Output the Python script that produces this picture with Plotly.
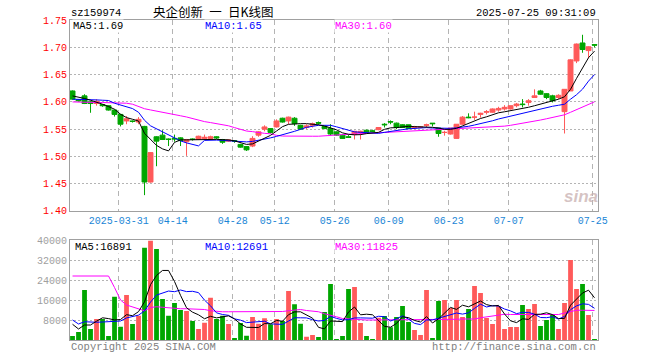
import plotly.graph_objects as go

# ---------------- data ----------------
dates = [
    "2025-03-19", "2025-03-20", "2025-03-21", "2025-03-24", "2025-03-25", "2025-03-26", "2025-03-27", "2025-03-28",
    "2025-03-31", "2025-04-01", "2025-04-02", "2025-04-03", "2025-04-07", "2025-04-08", "2025-04-09", "2025-04-10",
    "2025-04-11", "2025-04-14", "2025-04-15", "2025-04-16", "2025-04-17", "2025-04-18", "2025-04-21", "2025-04-22",
    "2025-04-23", "2025-04-24", "2025-04-25", "2025-04-28", "2025-04-29", "2025-04-30", "2025-05-06", "2025-05-07",
    "2025-05-08", "2025-05-09", "2025-05-12", "2025-05-13", "2025-05-14", "2025-05-15", "2025-05-16", "2025-05-19",
    "2025-05-20", "2025-05-21", "2025-05-22", "2025-05-23", "2025-05-26", "2025-05-27", "2025-05-28", "2025-05-29",
    "2025-05-30", "2025-06-03", "2025-06-04", "2025-06-05", "2025-06-06", "2025-06-09", "2025-06-10", "2025-06-11",
    "2025-06-12", "2025-06-13", "2025-06-16", "2025-06-17", "2025-06-18", "2025-06-19", "2025-06-20", "2025-06-23",
    "2025-06-24", "2025-06-25", "2025-06-26", "2025-06-27", "2025-06-30", "2025-07-01", "2025-07-02", "2025-07-03",
    "2025-07-04", "2025-07-07", "2025-07-08", "2025-07-09", "2025-07-10", "2025-07-11", "2025-07-14", "2025-07-15",
    "2025-07-16", "2025-07-17", "2025-07-18", "2025-07-21", "2025-07-22", "2025-07-23", "2025-07-24", "2025-07-25",
]

opens = [
    1.620, 1.604, 1.611, 1.600, 1.597, 1.595, 1.593, 1.585, 1.577, 1.565, 1.565, 1.563, 1.555, 1.453, 1.536, 1.539,
    1.532, 1.533, 1.534, 1.527, 1.532, 1.531, 1.533, 1.533, 1.536, 1.531, 1.528, 1.529, 1.522, 1.518, 1.519, 1.539,
    1.550, 1.551, 1.554, 1.570, 1.565, 1.570, 1.557, 1.553, 1.557, 1.562, 1.555, 1.551, 1.545, 1.539, 1.536, 1.540,
    1.544, 1.548, 1.547, 1.549, 1.559, 1.564, 1.561, 1.558, 1.558, 1.552, 1.553, 1.557, 1.561, 1.552, 1.544, 1.541,
    1.533, 1.559, 1.572, 1.572, 1.577, 1.581, 1.581, 1.585, 1.587, 1.587, 1.593, 1.596, 1.599, 1.608, 1.620, 1.615,
    1.611, 1.608, 1.582, 1.620, 1.675, 1.708, 1.694, 1.705,
]
highs = [
    1.621, 1.605, 1.614, 1.601, 1.605, 1.596, 1.594, 1.586, 1.578, 1.574, 1.566, 1.572, 1.556, 1.508, 1.537, 1.548,
    1.533, 1.540, 1.535, 1.532, 1.533, 1.538, 1.540, 1.538, 1.537, 1.532, 1.531, 1.530, 1.523, 1.519, 1.537, 1.546,
    1.557, 1.552, 1.568, 1.571, 1.573, 1.572, 1.558, 1.559, 1.562, 1.564, 1.556, 1.559, 1.546, 1.540, 1.539, 1.547,
    1.547, 1.549, 1.549, 1.553, 1.561, 1.566, 1.562, 1.559, 1.558, 1.556, 1.555, 1.560, 1.561, 1.552, 1.547, 1.552,
    1.559, 1.574, 1.579, 1.582, 1.580, 1.585, 1.588, 1.591, 1.594, 1.593, 1.598, 1.605, 1.605, 1.623, 1.622, 1.616,
    1.613, 1.614, 1.623, 1.678, 1.707, 1.723, 1.702, 1.705,
]
lows = [
    1.604, 1.601, 1.596, 1.580, 1.593, 1.591, 1.584, 1.573, 1.555, 1.559, 1.562, 1.559, 1.429, 1.452, 1.482, 1.530,
    1.519, 1.527, 1.519, 1.501, 1.529, 1.530, 1.531, 1.531, 1.532, 1.523, 1.527, 1.525, 1.516, 1.510, 1.517, 1.536,
    1.546, 1.542, 1.553, 1.562, 1.559, 1.556, 1.549, 1.550, 1.553, 1.558, 1.550, 1.538, 1.538, 1.532, 1.534, 1.531,
    1.531, 1.543, 1.545, 1.548, 1.553, 1.559, 1.550, 1.553, 1.551, 1.550, 1.552, 1.553, 1.555, 1.536, 1.538, 1.540,
    1.532, 1.558, 1.570, 1.567, 1.571, 1.577, 1.580, 1.582, 1.584, 1.586, 1.590, 1.590, 1.593, 1.608, 1.613, 1.605,
    1.599, 1.605, 1.542, 1.620, 1.671, 1.690, 1.680, 1.700,
]
closes = [
    1.605, 1.602, 1.597, 1.597, 1.601, 1.593, 1.585, 1.577, 1.559, 1.569, 1.564, 1.568, 1.453, 1.507, 1.528, 1.531,
    1.531, 1.532, 1.529, 1.531, 1.531, 1.537, 1.535, 1.536, 1.534, 1.526, 1.530, 1.528, 1.517, 1.512, 1.533, 1.545,
    1.554, 1.544, 1.565, 1.563, 1.572, 1.560, 1.550, 1.556, 1.560, 1.561, 1.551, 1.541, 1.539, 1.533, 1.535, 1.546,
    1.546, 1.544, 1.546, 1.553, 1.558, 1.563, 1.553, 1.553, 1.551, 1.554, 1.554, 1.558, 1.560, 1.542, 1.544, 1.552,
    1.559, 1.572, 1.571, 1.572, 1.579, 1.582, 1.587, 1.588, 1.590, 1.593, 1.596, 1.595, 1.602, 1.611, 1.614, 1.608,
    1.602, 1.612, 1.623, 1.677, 1.706, 1.696, 1.701, 1.704,
]

ma5 = [
    1.6109, 1.6091, 1.6062, 1.6030, 1.5999, 1.5957, 1.5914, 1.5865, 1.5773, 1.5712, 1.5681, 1.5649, 1.5423, 1.5312,
    1.5202, 1.5138, 1.5101, 1.5257, 1.5303, 1.5303, 1.5307, 1.5312, 1.5312, 1.5312, 1.5312, 1.5307, 1.5303, 1.5285,
    1.5257, 1.5220, 1.5229, 1.5285, 1.5340, 1.5386, 1.5465, 1.5546, 1.5588, 1.5601, 1.5601, 1.5601, 1.5594, 1.5579,
    1.5557, 1.5528, 1.5487, 1.5432, 1.5405, 1.5396, 1.5399, 1.5418, 1.5429, 1.5441, 1.5496, 1.5524, 1.5528, 1.5542,
    1.5552, 1.5546, 1.5546, 1.5539, 1.5533, 1.5520, 1.5496, 1.5496, 1.5515, 1.5560, 1.5605, 1.5653, 1.5695, 1.5726,
    1.5763, 1.5800, 1.5818, 1.5837, 1.5859, 1.5883, 1.5901, 1.5929, 1.5957, 1.5984, 1.6017, 1.6049, 1.6094, 1.6230,
    1.6430, 1.6630, 1.6810, 1.6930,
]
ma10 = [
    1.6049, 1.6049, 1.6043, 1.6040, 1.6036, 1.6030, 1.6025, 1.5975, 1.5938, 1.5914, 1.5877, 1.5809, 1.5662, 1.5561,
    1.5506, 1.5441, 1.5395, 1.5344, 1.5285, 1.5248, 1.5220, 1.5193, 1.5294, 1.5303, 1.5299, 1.5294, 1.5288, 1.5285,
    1.5266, 1.5266, 1.5275, 1.5294, 1.5312, 1.5340, 1.5367, 1.5395, 1.5423, 1.5460, 1.5496, 1.5533, 1.5552, 1.5570,
    1.5570, 1.5570, 1.5542, 1.5515, 1.5478, 1.5450, 1.5441, 1.5436, 1.5429, 1.5423, 1.5441, 1.5460, 1.5484, 1.5491,
    1.5506, 1.5515, 1.5524, 1.5528, 1.5520, 1.5515, 1.5515, 1.5515, 1.5524, 1.5533, 1.5552, 1.5576, 1.5598, 1.5625,
    1.5653, 1.5686, 1.5712, 1.5741, 1.5773, 1.5800, 1.5828, 1.5846, 1.5877, 1.5892, 1.5919, 1.5938, 1.5957, 1.6049,
    1.6131, 1.6233, 1.6380, 1.6500,
]
ma30 = [
    1.5999, 1.5993, 1.5988, 1.5988, 1.5988, 1.5988, 1.5988, 1.5988, 1.5984, 1.5975, 1.5957, 1.5920, 1.5874, 1.5852,
    1.5833, 1.5809, 1.5782, 1.5763, 1.5745, 1.5723, 1.5690, 1.5662, 1.5638, 1.5620, 1.5603, 1.5588, 1.5561, 1.5528,
    1.5496, 1.5465, 1.5454, 1.5436, 1.5423, 1.5414, 1.5386, 1.5373, 1.5370, 1.5370, 1.5370, 1.5370, 1.5370, 1.5370,
    1.5381, 1.5386, 1.5392, 1.5399, 1.5405, 1.5410, 1.5414, 1.5418, 1.5423, 1.5429, 1.5432, 1.5436, 1.5447, 1.5460,
    1.5465, 1.5472, 1.5478, 1.5483, 1.5487, 1.5491, 1.5496, 1.5496, 1.5502, 1.5509, 1.5518, 1.5524, 1.5529, 1.5537,
    1.5542, 1.5548, 1.5555, 1.5570, 1.5588, 1.5601, 1.5625, 1.5647, 1.5667, 1.5690, 1.5712, 1.5736, 1.5763, 1.5809,
    1.5855, 1.5901, 1.5957, 1.6001,
]

volumes = [
    1600, 3200, 20000, 4400, 8400, 8400, 1600, 17300, 5300, 18000,
    6400, 9700, 36900, 39700, 36400, 16400, 9700, 14800, 12000, 11600,
    7600, 4400, 6900, 16900, 8400, 9700, 6400, 800, 6800, 1700,
    9200, 6500, 8700, 6300, 8400, 7600, 19600, 14300, 6500, 1300,
    2000, 1200, 11200, 22400, 400, 1600, 20400, 21200, 6800, 1600,
    400, 8900, 9600, 5100, 9200, 13600, 7200, 4000, 2000, 20000,
    800, 15600, 16000, 12800, 16000, 9200, 12400, 21600, 18800, 8800,
    6400, 13600, 4400, 5200, 5200, 14000, 12400, 14400, 5600, 8000,
    10400, 4400, 14800, 32000, 20400, 22400, 10000, 400,
]
vol_ma5 = [
    6300, 4400, 6000, 6000, 7520, 8880, 8560, 8020, 8200, 10120,
    9720, 11340, 15260, 22140, 25820, 27820, 27820, 23400, 17860, 12900,
    11140, 10080, 8500, 9480, 8840, 9260, 9660, 8440, 6420, 5080,
    4980, 5000, 6580, 6480, 7820, 7500, 10120, 11240, 11280, 9860,
    8740, 5060, 4440, 7620, 7440, 7360, 11200, 13200, 10080, 10320,
    10080, 7780, 5460, 5120, 6640, 9280, 8940, 7820, 7200, 9360,
    6800, 8480, 10880, 13040, 12240, 13920, 13280, 14400, 15600, 14160,
    13600, 13840, 10400, 7680, 6960, 8480, 8240, 10240, 10320, 10880,
    10160, 8560, 8640, 13920, 16400, 18800, 19920, 16891,
]
vol_ma10 = [
    8000, 6400, 7300, 7100, 7100, 7200, 7300, 7300, 7600, 8820,
    9300, 9950, 11640, 15170, 17970, 18770, 19580, 19330, 20000, 19360,
    19480, 18950, 15950, 13670, 10870, 10200, 9870, 8470, 7950, 6960,
    7120, 7330, 7510, 6450, 6450, 6240, 7560, 8910, 8880, 8840,
    8120, 7590, 7840, 9450, 8650, 8050, 8130, 8820, 8850, 8880,
    8720, 9490, 9330, 7600, 8480, 9680, 8360, 6640, 6160, 8000,
    8040, 8710, 9350, 10120, 10800, 10360, 10880, 12640, 14320, 13200,
    13760, 13560, 12400, 11640, 10560, 11040, 11040, 10320, 9000, 8920,
    9320, 8400, 9440, 12120, 13640, 14480, 14240, 12691,
]
vol_ma30 = [
    25600, 25600, 25600, 25600, 25600, 25600, 25600, 21000, 16000, 14000,
    13300, 12300, 11700, 13000, 13300, 13100, 12800, 12600, 12500, 12500,
    12400, 12300, 12200, 11700, 11400, 11300, 11300, 11300, 11300, 11300,
    11300, 11600, 11400, 11300, 11300, 11400, 11700, 12100, 12200, 11800,
    11600, 11300, 10500, 10000, 9300, 8600, 8400, 8200, 8000, 8000,
    8000, 8000, 8000, 8000, 8000, 8000, 8000, 8000, 8000, 8200,
    8200, 8200, 8300, 8300, 8300, 8400, 8400, 8400, 8900, 9200,
    9600, 10100, 10300, 10200, 10200, 10200, 10200, 10200, 10200, 10200,
    10200, 10200, 10800, 11400, 11900, 11900, 11900, 11825,
]

tick_dates = ["2025-03-31", "2025-04-14", "2025-04-28", "2025-05-12", "2025-05-26",
              "2025-06-09", "2025-06-23", "2025-07-07", "2025-07-25"]
tick_labels = ["2025-03-31", "04-14", "04-28", "05-12", "05-26", "06-09", "06-23", "07-07", "07-25"]
price_ticks = [1.40, 1.45, 1.50, 1.55, 1.60, 1.65, 1.70, 1.75]
vol_ticks = [8000, 16000, 24000, 32000, 40000]

# ---------------- styling ----------------
RED = "#ff5a5a"
GREEN = "#00a600"
MONO = "Liberation Mono, DejaVu Sans Mono, monospace"
GRID = "#b4b4b4"
FRAME = "#a0a0a0"

W, H = 660, 360
PLOT_L, PLOT_R, PLOT_T, PLOT_B = 70, 598, 20, 340   # plot box in page pixels
L, T, R, B = PLOT_L, PLOT_T, W - PLOT_R, H - PLOT_B
PW, PH = PLOT_R - PLOT_L, PLOT_B - PLOT_T


def px(xp):
    return (xp - PLOT_L) / PW


def py(yp):
    return (PLOT_B - yp) / PH


x = list(range(len(dates)))
tick_pos = [dates.index(d) - 0.3 for d in tick_dates]
vol_colors = [RED if c >= o else GREEN for o, c in zip(opens, closes)]

fig = go.Figure()

fig.add_trace(go.Candlestick(
    x=x, open=opens, high=highs, low=lows, close=closes,
    increasing=dict(line=dict(color=RED, width=1), fillcolor=RED),
    decreasing=dict(line=dict(color=GREEN, width=1), fillcolor=GREEN),
    whiskerwidth=0, showlegend=False, hoverinfo="skip",
    xaxis="x", yaxis="y",
))
for vals, col in [(ma30, "#ff00ff"), (ma10, "#0000ff"), (ma5, "#000000")]:
    fig.add_trace(go.Scatter(x=x, y=vals, mode="lines", line=dict(color=col, width=1),
                             showlegend=False, hoverinfo="skip", xaxis="x", yaxis="y"))

fig.add_trace(go.Bar(x=x, y=volumes, marker=dict(color=vol_colors, line=dict(width=0)),
                     width=0.8, showlegend=False, hoverinfo="skip", xaxis="x2", yaxis="y2"))
for vals, col in [(vol_ma30, "#ff00ff"), (vol_ma10, "#0000ff"), (vol_ma5, "#000000")]:
    fig.add_trace(go.Scatter(x=x, y=vals, mode="lines", line=dict(color=col, width=1),
                             showlegend=False, hoverinfo="skip", xaxis="x2", yaxis="y2"))

xrange_ = [-0.42, len(dates) - 0.42]
common_x = dict(range=xrange_, showgrid=True, gridcolor=GRID, griddash="5px,4px", gridwidth=1,
                tickvals=tick_pos, zeroline=False, showline=True, mirror=True,
                linecolor=FRAME, linewidth=1, ticks="", fixedrange=True, automargin=False)

fig.update_layout(
    width=W, height=H,
    margin=dict(l=L, r=R, t=T, b=B, autoexpand=False),
    paper_bgcolor="white", plot_bgcolor="white",
    boxgap=0.18, boxgroupgap=0,
    bargap=0.15,
    xaxis=dict(**common_x, ticktext=tick_labels, showticklabels=True, anchor="y",
               tickfont=dict(family=MONO, size=10, color="#1a86d6"),
               rangeslider=dict(visible=False)),
    xaxis2=dict(**common_x, ticktext=tick_labels, showticklabels=False, anchor="y2", matches="x"),
    yaxis=dict(domain=[py(211), 1.0], range=[1.3999, 1.7501], tickvals=price_ticks,
               ticktext=[f"{v:.2f}" for v in price_ticks], showgrid=True, gridcolor=GRID,
               griddash="2px,2px", zeroline=False, showline=True, mirror=True, linecolor=FRAME,
               linewidth=1, ticks="", tickfont=dict(family=MONO, size=10, color="#ff0000"),
               anchor="x", fixedrange=True, automargin=False),
    yaxis2=dict(domain=[0, py(240)], range=[0, 40000], tickvals=vol_ticks,
                ticktext=[str(v) for v in vol_ticks], showgrid=True, gridcolor=GRID,
                griddash="2px,2px", zeroline=False, showline=True, mirror=True, linecolor=FRAME,
                linewidth=1, ticks="", tickfont=dict(family=MONO, size=10, color="#a0a0a0"),
                anchor="x2", fixedrange=True, automargin=False),
)

ann = []


def text(s, xp, yp, color="#000", size=10, anchor="left", family=MONO, bg=None):
    d = dict(text=s, x=px(xp), y=py(yp), xref="paper", yref="paper", showarrow=False,
             xanchor=anchor, yanchor="middle", font=dict(family=family, size=size, color=color))
    if bg:
        d["bgcolor"] = bg
        d["borderpad"] = 0
    ann.append(d)


text("sz159974", 69, 12.5, "#000", 10.5)
text("央企创新\u2002一\u2002日K线图", 213, 11.5, "#000", 12.5, "center", "Noto Sans CJK SC")
text("2025-07-25 09:31:09", 598, 12.5, "#000", 10.5, "right")
text("MA5:" + f"{ma5[-1]:.3f}"[:4], 72, 26.5, "#000", 10.5, bg="white")
text("MA10:" + f"{ma10[-1]:.2f}", 204, 26.5, "#0000ff", 10.5, bg="white")
text("MA30:" + f"{ma30[-1]:.2f}", 334, 26.5, "#ff00ff", 10.5, bg="white")
text(f"MA5:{vol_ma5[-1]}", 74, 246.5, "#000", 10.5, bg="white")
text(f"MA10:{vol_ma10[-1]}", 204, 246.5, "#0000ff", 10.5, bg="white")
text(f"MA30:{vol_ma30[-1]}", 334, 246.5, "#ff00ff", 10.5, bg="white")
text("Copyright 2025 SINA.COM", 69, 346.5, "#808080", 10.5)
text("http://finance.sina.com.cn", 598, 346.5, "#808080", 10.5, "right")
text("<b><i>sina</i></b>", 581, 196, "rgba(200,175,175,0.75)", 17, "center",
     "Liberation Sans, Arial, sans-serif")

fig.update_layout(annotations=ann)

# remove the default page margin so the figure sits at the window's top-left corner
fig.write_html(
    "out.html",
    config={"displayModeBar": False, "staticPlot": True},
    post_script="document.body.style.margin='0';document.documentElement.style.overflow='hidden';",
)
